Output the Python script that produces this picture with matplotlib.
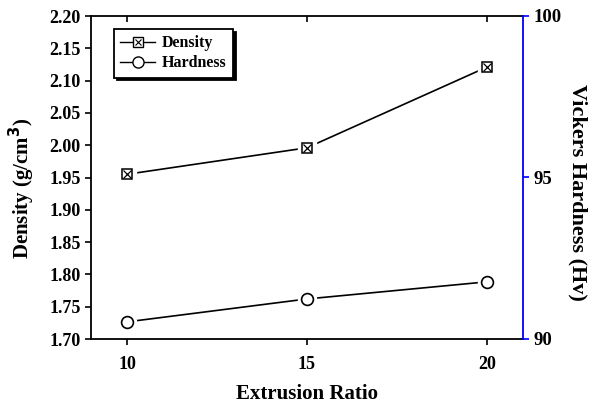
import matplotlib
matplotlib.use("Agg")
import matplotlib.pyplot as plt
from matplotlib.lines import Line2D
from matplotlib.legend_handler import HandlerTuple

# data
extrusionRatio = [10, 15, 20]
density = [1.955, 1.996, 2.121]
hardness = [90.53, 91.24, 91.77]

plt.rcParams['font.family'] = ['Liberation Serif', 'DejaVu Serif']
plt.rcParams['font.weight'] = 'bold'
plt.rcParams['mathtext.default'] = 'bf'

fig = plt.figure(figsize=(5.92, 4.03), dpi=100)
ax = fig.add_axes([91 / 592, 1 - 339 / 403, (523 - 91) / 592, (339 - 16) / 403])
ax2 = ax.twinx()

# density: line, white halo to make the gap, then crossed box
ax.plot(extrusionRatio, density, color='black', lw=1.2, zorder=2)
ax.plot(extrusionRatio, density, ls='none', marker='s', ms=13, mfc='white', mec='white', zorder=3)
ax.plot(extrusionRatio, density, ls='none', marker='s', ms=7.5, mfc='white', mec='black', mew=1.1, zorder=4)
ax.plot(extrusionRatio, density, ls='none', marker='x', ms=5.5, mec='black', mew=0.9, zorder=5)

# hardness on the right axis
ax2.plot(extrusionRatio, hardness, color='black', lw=1.2, zorder=2)
ax2.plot(extrusionRatio, hardness, ls='none', marker='o', ms=13, mfc='white', mec='white', zorder=3)
ax2.plot(extrusionRatio, hardness, ls='none', marker='o', ms=8.5, mfc='white', mec='black', mew=1.2, zorder=4)

ax.set_xlim(9, 21)
ax.set_ylim(1.70, 2.20)
ax2.set_ylim(90, 100)
ax.set_xticks([10, 15, 20])
ax.set_yticks([1.70, 1.75, 1.80, 1.85, 1.90, 1.95, 2.00, 2.05, 2.10, 2.15, 2.20])
ax.set_yticklabels(['%.2f' % v for v in ax.get_yticks()])
ax2.set_yticks([90, 95, 100])

ax.tick_params(axis='both', labelsize=13, width=1.2, length=4, direction='out')
ax.tick_params(axis='x', top=True, pad=8)
ax2.tick_params(axis='y', labelsize=13.5, width=1.2, length=4, direction='out', colors='blue', labelcolor='black')

for s in ['left', 'bottom', 'top']:
    ax.spines[s].set_linewidth(1.3)
ax2.spines['right'].set_color('blue')
ax2.spines['right'].set_linewidth(1.3)
ax.spines['right'].set_visible(False)
for s in ['left', 'bottom', 'top']:
    ax2.spines[s].set_visible(False)

# top ticks point inward
for t in ax.xaxis.get_major_ticks():
    t.tick2line.set_marker(3)

ax.set_xlabel('Extrusion Ratio', fontsize=15, fontweight='bold', labelpad=8)
ax.set_ylabel('Density (g/cm$^3$)', fontsize=15, fontweight='bold', ha='center', va='center')
ax.yaxis.set_label_coords(-0.16, 0.467)
ax2.set_ylabel('Vickers Hardness (Hv)', fontsize=16, fontweight='bold', rotation=270,
               ha='center', va='center')
ax2.yaxis.set_label_coords(1.127, 0.455)

# legend with proxy handles
lineD = Line2D([], [], color='black', lw=1.0)
boxD = Line2D([], [], ls='none', marker='s', ms=7, mfc='white', mec='black')
crossD = Line2D([], [], ls='none', marker='x', ms=5, mec='black', mew=0.8)
hH = Line2D([], [], color='black', lw=1.0, marker='o', ms=8, mfc='white', mec='black')
leg = ax.legend([(lineD, boxD, crossD), hH], ['Density', 'Hardness'], loc='upper left',
                handler_map={tuple: HandlerTuple(ndivide=1, pad=0)},
                bbox_to_anchor=(0.053, 0.96), borderaxespad=0, fontsize=11.5,
                frameon=True, fancybox=False,
                shadow={'color': 'black', 'alpha': 1}, edgecolor='black',
                handlelength=2.2, borderpad=0.4, labelspacing=0.25, handletextpad=0.4)
leg.get_frame().set_linewidth(1.3)

fig.savefig('out.png', dpi=100)
